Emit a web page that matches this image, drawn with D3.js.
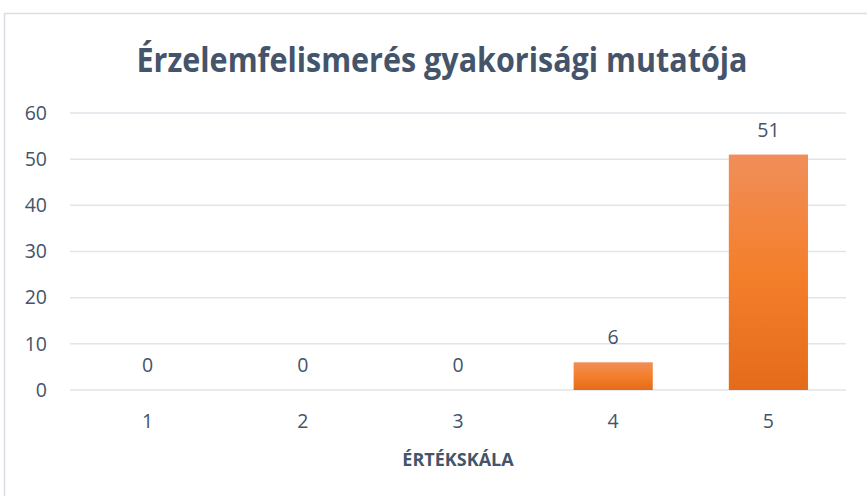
<!DOCTYPE html>
<html>
<head>
<meta charset="utf-8">
<script src="https://cdn.jsdelivr.net/npm/d3@7"></script>
<style>
  body { margin: 0; background: #fff; }
  text { font-family: "Open Sans", "DejaVu Sans", sans-serif; }
</style>
</head>
<body>
<div id="chart"></div>
<script>
// chart data
var categories = ["1", "2", "3", "4", "5"];
var values = [0, 0, 0, 6, 51];
var yTicks = [0, 10, 20, 30, 40, 50, 60];
var chartTitle = "Érzelemfelismerés gyakorisági mutatója";
var xTitle = "ÉRTÉKSKÁLA";

var svgWidth = 867;
var svgHeight = 496;

var margin = { top: 113, right: 21, bottom: 106, left: 70 };
var width = svgWidth - margin.left - margin.right;
var height = svgHeight - margin.top - margin.bottom;

var textColor = "#44546A";
var labelSize = 19.5;

var svg = d3.select("#chart")
  .append("svg")
  .attr("width", svgWidth)
  .attr("height", svgHeight);

// bar gradient
var grad = svg.append("defs").append("linearGradient")
  .attr("id", "barGrad")
  .attr("x1", 0).attr("y1", 0).attr("x2", 0).attr("y2", 1);
grad.append("stop").attr("offset", "0%").attr("stop-color", "#F08E5A");
grad.append("stop").attr("offset", "50%").attr("stop-color", "#F47F2B");
grad.append("stop").attr("offset", "100%").attr("stop-color", "#E46B1A");

// outer frame
svg.append("rect")
  .attr("x", 4.5).attr("y", 13.5)
  .attr("width", svgWidth).attr("height", svgHeight)
  .attr("fill", "none")
  .attr("stroke", "#D9DEE4")
  .attr("stroke-width", 1.5);

// title, squeezed a bit to match the narrow original face
svg.append("text")
  .attr("x", 442)
  .attr("y", 72)
  .attr("text-anchor", "middle")
  .attr("font-size", 34)
  .attr("font-weight", "bold")
  .attr("fill", textColor)
  .attr("textLength", 611)
  .attr("lengthAdjust", "spacingAndGlyphs")
  .text(chartTitle);

var chartGroup = svg.append("g")
  .attr("transform", `translate(${margin.left}, ${margin.top})`);

var xScale = d3.scaleBand()
  .domain(categories)
  .range([0, width])
  .paddingInner(0.49)
  .paddingOuter(0.245);

var yScale = d3.scaleLinear()
  .domain([0, 60])
  .range([height, 0]);

// gridlines
chartGroup.append("g")
  .selectAll("line")
  .data(yTicks)
  .enter()
  .append("line")
  .attr("x1", 0)
  .attr("x2", width)
  .attr("y1", d => yScale(d))
  .attr("y2", d => yScale(d))
  .attr("stroke", "#E1E5EA")
  .attr("stroke-width", 1.5);

// y axis
var leftAxis = d3.axisLeft(yScale).tickValues(yTicks).tickSize(0).tickPadding(23);
var yAxis = chartGroup.append("g").call(leftAxis);
yAxis.select(".domain").remove();
yAxis.selectAll("text")
  .attr("font-size", labelSize)
  .attr("fill", textColor)
  .style("font-family", "'Open Sans', sans-serif");

// x axis
var bottomAxis = d3.axisBottom(xScale).tickSize(0).tickPadding(24);
var xAxis = chartGroup.append("g")
  .attr("transform", `translate(0, ${height})`)
  .call(bottomAxis);
xAxis.select(".domain").remove();
xAxis.selectAll("text")
  .attr("font-size", labelSize)
  .attr("fill", textColor)
  .style("font-family", "'Open Sans', sans-serif");

// bars
chartGroup.selectAll("rect.bar")
  .data(values)
  .enter()
  .append("rect")
  .attr("class", "bar")
  .attr("x", (d, i) => xScale(categories[i]))
  .attr("y", d => yScale(d))
  .attr("width", xScale.bandwidth())
  .attr("height", d => height - yScale(d))
  .attr("fill", "url(#barGrad)");

// data labels
chartGroup.selectAll("text.lbl")
  .data(values)
  .enter()
  .append("text")
  .attr("class", "lbl")
  .attr("x", (d, i) => xScale(categories[i]) + xScale.bandwidth() / 2)
  .attr("y", d => yScale(d) - 18)
  .attr("text-anchor", "middle")
  .attr("font-size", labelSize)
  .attr("fill", textColor)
  .text(d => d);

// x title
svg.append("text")
  .attr("x", margin.left + width / 2)
  .attr("y", 466)
  .attr("text-anchor", "middle")
  .attr("font-size", 18)
  .attr("font-weight", "bold")
  .attr("fill", textColor)
  .text(xTitle);
</script>
</body>
</html>
